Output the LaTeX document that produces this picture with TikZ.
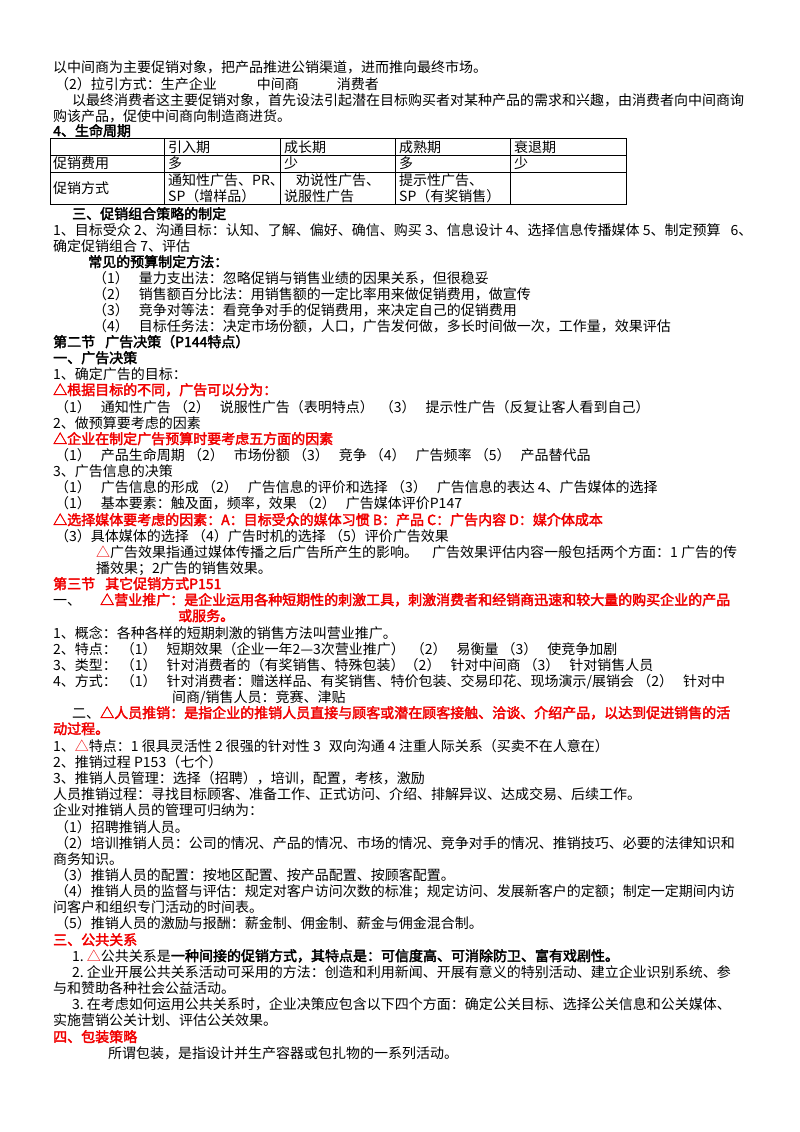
\documentclass[tikz,border=0pt]{standalone}
\usepackage{fontspec}
\setmainfont{Noto Sans CJK SC}[AutoFakeBold=2.5]
\definecolor{rd}{RGB}{240,0,0}
\tikzset{t/.style={anchor=base west,inner sep=0pt,font=\fontsize{14}{16}\selectfont},
 b/.style={t,font=\fontsize{14}{16}\selectfont\bfseries},
 r/.style={b,text=rd},
 rr/.style={t,text=rd},
 grid/.style={line width=0.8pt}}
\begin{document}
\begin{tikzpicture}[x=1pt,y=-1pt]
\useasboundingbox (0,0) rectangle (800,1132);
\node[t] (l1) at (53,73) {以中间商为主要促销对象，把产品推进公销渠道，进而推向最终市场。};
\node[t] (l2) at (55,89) {（2）拉引方式：生产企业\hspace{40pt}中间商\hspace{38pt}消费者};
\node[t] (l3) at (72,105) {以最终消费者这主要促销对象，首先设法引起潜在目标购买者对某种产品的需求和兴趣，由消费者向中间商询};
\node[t] (l4) at (53,121) {购该产品，促使中间商向制造商进货。};
\node[b] (l5) at (53,136) {4、生命周期};
% table
\draw[grid] (50,138) rectangle (626,204);
\draw[grid] (50,155) -- (626,155) (50,172) -- (626,172);
\foreach \x in {164,280,395,510} \draw[grid] (\x,138) -- (\x,204);
\node[t] (h1) at (168,152) {引入期};
\node[t] (h2) at (284,152) {成长期};
\node[t] (h3) at (399,152) {成熟期};
\node[t] (h4) at (514,152) {衰退期};
\node[t] (c1) at (53,168) {促销费用};
\node[t] (c2) at (168,168) {多};
\node[t] (c3) at (284,168) {少};
\node[t] (c4) at (399,168) {多};
\node[t] (c5) at (514,168) {少};
\node[t] (m1) at (53,193) {促销方式};
\node[t] (m2) at (168,185) {通知性广告、PR、};
\node[t] (m3) at (168,201) {SP（增样品）};
\node[t] (m4) at (284,185) {\hspace{12pt}劝说性广告、};
\node[t] (m5) at (284,201) {说服性广告};
\node[t] (m6) at (399,185) {提示性广告、};
\node[t] (m7) at (399,201) {SP（有奖销售）};
\node[b] (l6) at (72,219) {三、促销组合策略的制定};
\node[t] (l7) at (53,235) {1、目标受众 2、沟通目标：认知、了解、偏好、确信、购买 3、信息设计 4、选择信息传播媒体 5、制定预算\hspace{10pt}6、};
\node[t] (l8) at (53,251) {确定促销组合 7、评估};
\node[b] (l9) at (88,267) {常见的预算制定方法：};
\node[t] (p1) at (93,283) {（1）\hspace{10pt}量力支出法：忽略促销与销售业绩的因果关系，但很稳妥};
\node[t] (p2) at (93,299) {（2）\hspace{10pt}销售额百分比法：用销售额的一定比率用来做促销费用，做宣传};
\node[t] (p3) at (93,315) {（3）\hspace{10pt}竞争对等法：看竞争对手的促销费用，来决定自己的促销费用};
\node[t] (p4) at (93,331) {（4）\hspace{10pt}目标任务法：决定市场份额，人口，广告发何做，多长时间做一次，工作量，效果评估};
\node[b] (s2) at (53,347) {第二节\hspace{10pt}广告决策（P144特点）};
\node[b] (a1) at (53,363) {一、广告决策};
\node[t] (a2) at (53,379) {1、确定广告的目标：};
\node[r] (a3) at (53,395) {△根据目标的不同，广告可以分为：};
\node[t] (a4) at (55,412) {（1）\hspace{10pt}通知性广告 （2）\hspace{10pt}说服性广告（表明特点）\hspace{6pt}（3）\hspace{10pt}提示性广告（反复让客人看到自己）};
\node[t] (a5) at (53,428) {2、做预算要考虑的因素};
\node[r] (a6) at (53,444) {△企业在制定广告预算时要考虑五方面的因素};
\node[t] (a7) at (55,460) {（1）\hspace{10pt}产品生命周期 （2）\hspace{10pt}市场份额 （3）\hspace{10pt}竞争 （4）\hspace{10pt}广告频率 （5）\hspace{10pt}产品替代品};
\node[t] (a8) at (53,476) {3、广告信息的决策};
\node[t] (a9) at (55,492) {（1）\hspace{10pt}广告信息的形成 （2）\hspace{10pt}广告信息的评价和选择 （3）\hspace{10pt}广告信息的表达 4、广告媒体的选择};
\node[t] (a10) at (55,508) {（1）\hspace{10pt}基本要素：触及面，频率，效果 （2）\hspace{10pt}广告媒体评价P147};
\node[r] (a11) at (53,525) {△选择媒体要考虑的因素：A：目标受众的媒体习惯 B：产品 C：广告内容 D：媒介体成本};
\node[t] (a12) at (55,541) {（3）具体媒体的选择 （4）广告时机的选择 （5）评价广告效果};
\node[t] (a13) at (96,557) {\textcolor{rd}{△}广告效果指通过媒体传播之后广告所产生的影响。\hspace{14pt}广告效果评估内容一般包括两个方面：1 广告的传};
\node[t] (a14) at (96,573) {播效果；2广告的销售效果。};
\node[r] (s3) at (53,589) {第三节\hspace{10pt}其它促销方式P151};
\node[t] (y0) at (53,605) {一、};
\node[r] (y1) at (100,605) {△营业推广：是企业运用各种短期性的刺激工具，刺激消费者和经销商迅速和较大量的购买企业的产品};
\node[r] (y2) at (178,621) {或服务。};
\node[t] (y3) at (53,638) {1、概念：各种各样的短期刺激的销售方法叫营业推广。};
\node[t] (y4) at (53,654) {2、特点：\hspace{4pt}（1）\hspace{10pt}短期效果（企业一年2—3次营业推广）\hspace{6pt}（2）\hspace{10pt}易衡量 （3）\hspace{10pt}使竞争加剧};
\node[t] (y5) at (53,670) {3、类型：\hspace{4pt}（1）\hspace{10pt}针对消费者的（有奖销售、特殊包装）（2）\hspace{10pt}针对中间商 （3）\hspace{10pt}针对销售人员};
\node[t] (y6) at (53,686) {4、方式：\hspace{4pt}（1）\hspace{10pt}针对消费者：赠送样品、有奖销售、特价包装、交易印花、现场演示/展销会 （2）\hspace{10pt}针对中};
\node[t] (y7) at (172,702) {间商/销售人员：竞赛、津贴};
\node[t] (r0) at (72,718) {二、};
\node[r] (r1) at (100,718) {△人员推销：是指企业的推销人员直接与顾客或潜在顾客接触、洽谈、介绍产品，以达到促进销售的活};
\node[r] (r2) at (53,734) {动过程。};
\node[t] (r3) at (53,751) {1、\textcolor{rd}{△}特点：1 很具灵活性 2 很强的针对性 3\hspace{8pt}双向沟通 4 注重人际关系（买卖不在人意在）};
\node[t] (r4) at (53,767) {2、推销过程 P153（七个）};
\node[t] (r5) at (53,783) {3、推销人员管理：选择（招聘），培训，配置，考核，激励};
\node[t] (r6) at (53,799) {人员推销过程：寻找目标顾客、准备工作、正式访问、介绍、排解异议、达成交易、后续工作。};
\node[t] (r7) at (53,815) {企业对推销人员的管理可归纳为：};
\node[t] (r8) at (55,832) {（1）招聘推销人员。};
\node[t] (r9) at (55,848) {（2）培训推销人员：公司的情况、产品的情况、市场的情况、竞争对手的情况、推销技巧、必要的法律知识和};
\node[t] (r10) at (53,864) {商务知识。};
\node[t] (r11) at (55,880) {（3）推销人员的配置：按地区配置、按产品配置、按顾客配置。};
\node[t] (r12) at (55,896) {（4）推销人员的监督与评估：规定对客户访问次数的标准；规定访问、发展新客户的定额；制定一定期间内访};
\node[t] (r13) at (53,912) {问客户和组织专门活动的时间表。};
\node[t] (r14) at (55,928) {（5）推销人员的激励与报酬：薪金制、佣金制、薪金与佣金混合制。};
\node[rr] (g0) at (53,945) {\bfseries 三、公共关系};
\node[t] (g1) at (72,961) {1.\ \textcolor{rd}{△}公共关系是\textbf{一种间接的促销方式，其特点是：可信度高、可消除防卫、富有戏剧性。}};
\node[t] (g2) at (72,977) {2.\ 企业开展公共关系活动可采用的方法：创造和利用新闻、开展有意义的特别活动、建立企业识别系统、参};
\node[t] (g3) at (53,993) {与和赞助各种社会公益活动。};
\node[t] (g4) at (72,1009) {3.\ 在考虑如何运用公共关系时，企业决策应包含以下四个方面：确定公关目标、选择公关信息和公关媒体、};
\node[t] (g5) at (53,1025) {实施营销公关计划、评估公关效果。};
\node[r] (k0) at (53,1042) {四、包装策略};
\node[t] (k1) at (108,1058) {所谓包装，是指设计并生产容器或包扎物的一系列活动。};
\end{tikzpicture}
\end{document}
